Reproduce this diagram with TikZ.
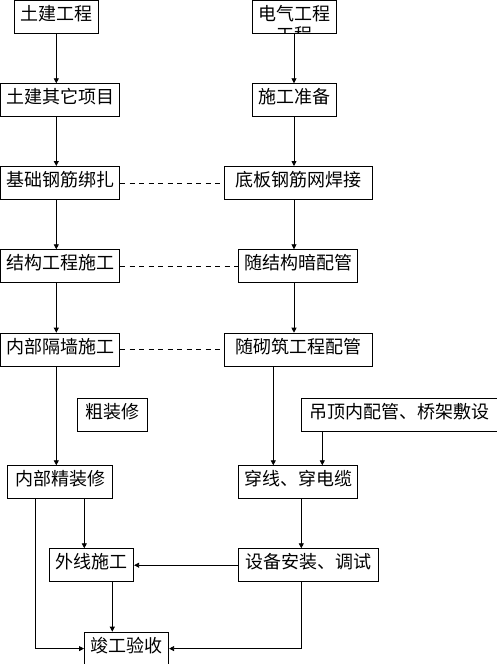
\documentclass[tikz,border=0pt]{standalone}
\usepackage{fontspec}
\newfontfamily\cjk{Noto Sans CJK SC}
\usetikzlibrary{arrows.meta}

\tikzset{
  box/.style={draw, line width=.8pt, anchor=north west, inner xsep=0pt, inner ysep=0pt,
    minimum height=33pt, text height=20pt, text depth=13pt,
    font=\cjk\fontsize{18pt}{20.7pt}\selectfont},
  arr/.style={line width=.8pt, -{Triangle[length=5pt,width=5pt]}},
  link/.style={line width=.8pt, dash pattern=on 5pt off 4.5pt}
}

\begin{document}
\begin{tikzpicture}[x=1pt,y=-1pt]
        \useasboundingbox (0,0) rectangle (497,664);
        % left column
        \node[box, minimum width=84pt] (tj) at (14.3,0) {土建工程};
        \node[box, minimum width=119.3pt] (tjqt) at (0,83.3) {土建其它项目};
        \node[box, minimum width=119.3pt] (jc) at (0,166) {基础钢筋绑扎};
        \node[box, minimum width=119.3pt] (jg) at (0,249.3) {结构工程施工};
        \node[box, minimum width=119.3pt] (gq) at (0,332.7) {内部隔墙施工};
        \node[box, minimum width=70pt] (czx) at (77.3,398.3) {粗装修};
        \node[box, minimum width=105pt] (jzx) at (7.3,465.3) {内部精装修};
        \node[box, minimum width=84pt] (wx) at (49.3,548.3) {外线施工};
        \node[box, minimum width=84.3pt] (ys) at (84,631.7) {竣工验收};
        % right column
        \node[box, minimum width=83.7pt] (dq) at (252.3,0) {电气工程};
        \begin{scope}
            \clip (dq.south west) rectangle (dq.north east);
            \node[anchor=base, inner sep=0pt, font=\cjk\fontsize{18pt}{20.7pt}\selectfont] (dq2) at ([yshift=-20.7pt]dq.base) {工程};
        \end{scope}
        \node[box, minimum width=83.7pt] (zb) at (252.3,83.3) {施工准备};
        \node[box, minimum width=147.4pt] (db) at (224.3,166) {底板钢筋网焊接};
        \node[box, minimum width=119pt] (ap) at (238.3,249.3) {随结构暗配管};
        \node[box, minimum width=147.4pt] (qz) at (224.3,332.7) {随砌筑工程配管};
        \node[box, minimum width=195.4pt] (dd) at (301.3,398.3) {吊顶内配管、桥架敷设};
        \node[box, minimum width=119pt] (cx) at (238.3,465.3) {穿线、穿电缆};
        \node[box, minimum width=140pt] (sb) at (238.3,548.3) {设备安装、调试};
        % columns of the arrows
        \coordinate (xl) at (56.3,0);
        \coordinate (xr) at (294,0);
        \coordinate (xa) at (35.3,0);
        \coordinate (xb) at (84.3,0);
        \coordinate (xc) at (112.3,0);
        \coordinate (xd) at (273.3,0);
        \coordinate (xe) at (322.3,0);
        \coordinate (xf) at (301.3,0);
        % left flow
        \draw[arr] (xl |- tj.south) -- (xl |- tjqt.north);
        \draw[arr] (xl |- tjqt.south) -- (xl |- jc.north);
        \draw[arr] (xl |- jc.south) -- (xl |- jg.north);
        \draw[arr] (xl |- jg.south) -- (xl |- gq.north);
        \draw[arr] (xl |- gq.south) -- (xl |- jzx.north);
        \draw[arr] (xb |- jzx.south) -- (xb |- wx.north);
        \draw[arr] (xc |- wx.south) -- (xc |- ys.north);
        \draw[arr] (xa |- jzx.south) |- (ys.west);
        % right flow
        \draw[arr] (xr |- dq.south) -- (xr |- zb.north);
        \draw[arr] (xr |- zb.south) -- (xr |- db.north);
        \draw[arr] (xr |- db.south) -- (xr |- ap.north);
        \draw[arr] (xr |- ap.south) -- (xr |- qz.north);
        \draw[arr] (xd |- qz.south) -- (xd |- cx.north);
        \draw[arr] (xe |- dd.south) -- (xe |- cx.north);
        \draw[arr] (xf |- cx.south) -- (xf |- sb.north);
        \draw[arr] (sb.west) -- (wx.east);
        \draw[arr] (xf |- sb.south) |- (ys.east);
        % links
        \draw[link] (jc.east) -- (db.west);
        \draw[link] (jg.east) -- (ap.west);
        \draw[link] (gq.east) -- (qz.west);
\end{tikzpicture}
\end{document}
